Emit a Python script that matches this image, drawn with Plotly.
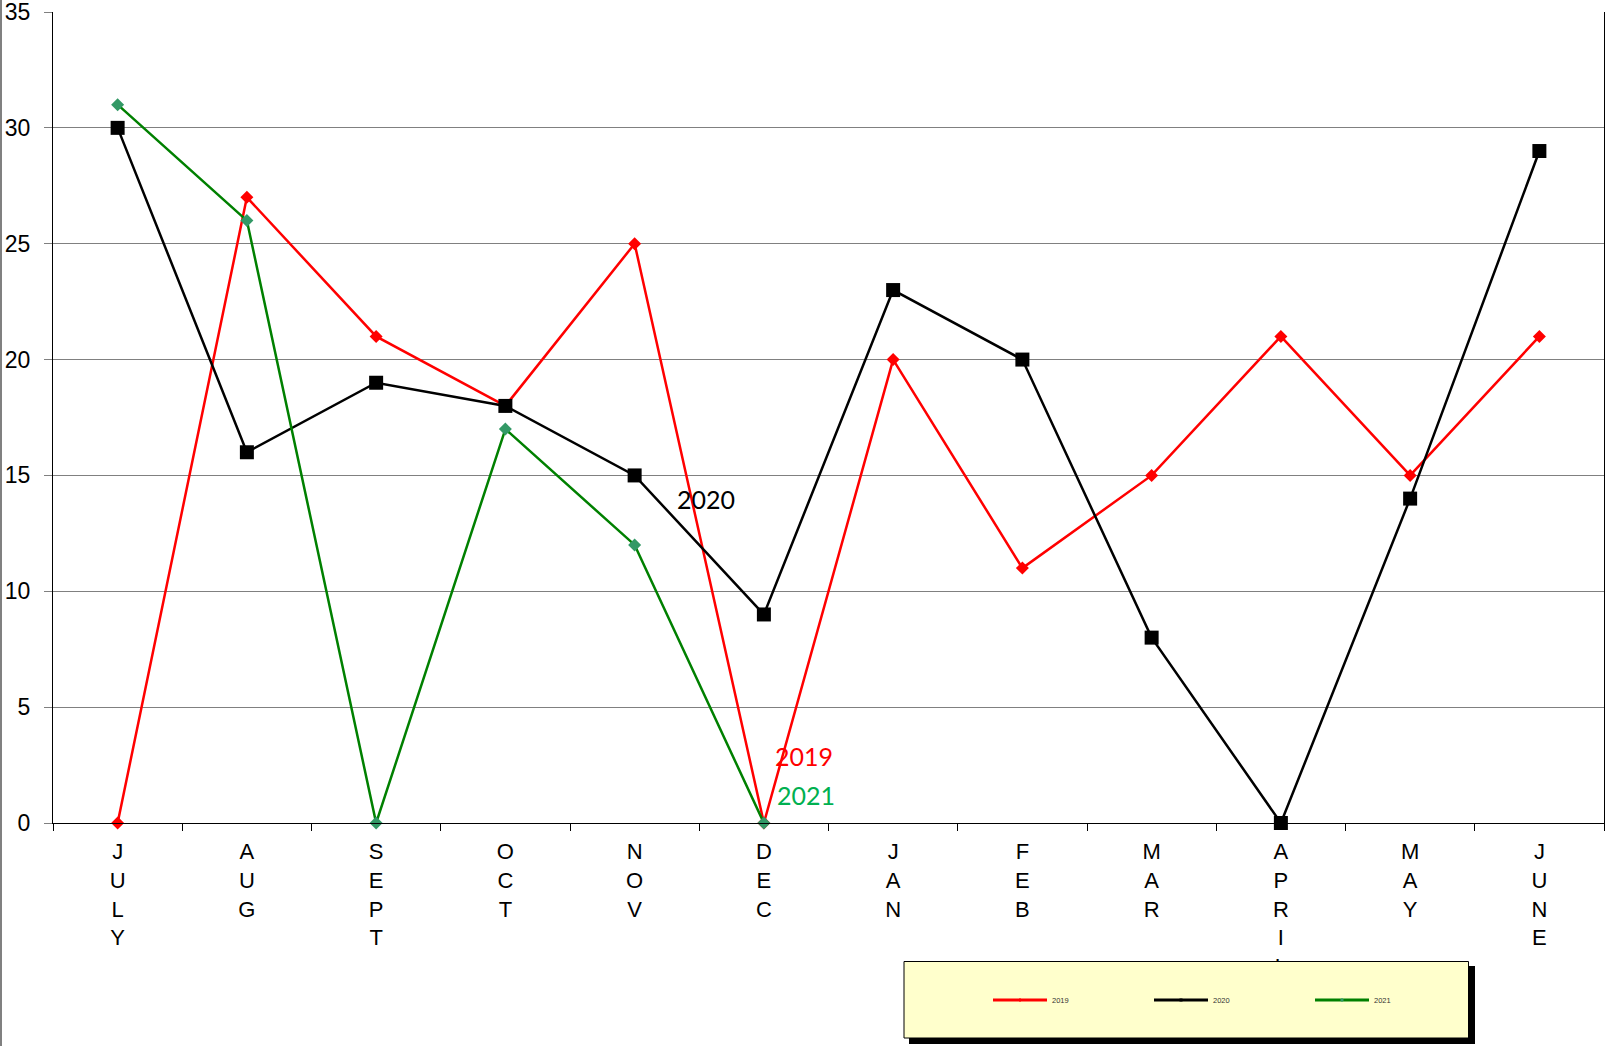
import plotly.graph_objects as go

months = ["JULY", "AUG", "SEPT", "OCT", "NOV", "DEC", "JAN", "FEB", "MAR", "APRIL", "MAY", "JUNE"]
tick_text = ["<br>".join(list(m)) for m in months]
s2019 = [0, 27, 21, 18, 25, 0, 20, 11, 15, 21, 15, 21]
s2020 = [30, 16, 19, 18, 15, 9, 23, 20, 8, 0, 14, 29]
s2021 = [31, 26, 0, 17, 12, 0]

W, H = 1606, 1046
L, R, T, B = 53, 2, 12, 223
PW = W - L - R
PH = H - T - B


def px(x):
    return (x - L) / PW


def py(y):
    return (H - B - y) / PH


fig = go.Figure()
fig.add_trace(go.Scatter(x=months, y=s2019, name="2019", mode="lines+markers", showlegend=False,
                         cliponaxis=False,
                         line=dict(color="#FF0000", width=2.5),
                         marker=dict(symbol="diamond", size=10, color="#FF0000")))
fig.add_trace(go.Scatter(x=months, y=s2020, name="2020", mode="lines+markers", showlegend=False,
                         cliponaxis=False,
                         line=dict(color="#000000", width=2.5),
                         marker=dict(symbol="square", size=14, color="#000000")))
fig.add_trace(go.Scatter(x=months[:len(s2021)], y=s2021, name="2021", mode="lines+markers",
                         showlegend=False, cliponaxis=False,
                         line=dict(color="#008000", width=2.5),
                         marker=dict(symbol="diamond", size=10, color="#339966")))

# legend-only entries with small markers (as in the original legend)
for nm, lc, mc, sym in [("2019", "#FF0000", "#FF0000", "diamond"),
                        ("2020", "#000000", "#000000", "square"),
                        ("2021", "#008000", "#339966", "diamond")]:
    fig.add_trace(go.Scatter(x=[None], y=[None], name=nm, mode="lines+markers",
                             line=dict(color=lc, width=3),
                             marker=dict(symbol=sym, size=3, color=mc)))

shapes = [
    dict(type="line", xref="paper", yref="paper", x0=px(1), x1=px(1), y0=py(0), y1=py(H),
         line=dict(color="#808080", width=2), layer="above"),
    dict(type="rect", xref="paper", yref="paper", x0=px(909), x1=px(1475), y0=py(966), y1=py(1044),
         fillcolor="#000000", line=dict(width=0), layer="above"),
    dict(type="rect", xref="paper", yref="paper", x0=px(904), x1=px(1468.5), y0=py(961.5), y1=py(1038),
         fillcolor="#FFFFCC", line=dict(color="#000000", width=1), layer="above"),
]

annotations = [
    dict(text="2020", x=px(706), y=py(499), xref="paper", yref="paper", showarrow=False,
         font=dict(family="Lato", size=25, color="#000000"), xanchor="center", yanchor="middle"),
    dict(text="2019", x=px(804), y=py(756), xref="paper", yref="paper", showarrow=False,
         font=dict(family="Lato", size=25, color="#FF0000"), xanchor="center", yanchor="middle"),
    dict(text="2021", x=px(806), y=py(795), xref="paper", yref="paper", showarrow=False,
         font=dict(family="Lato", size=25, color="#00B050"), xanchor="center", yanchor="middle"),
]

fig.update_layout(
    width=W, height=H,
    margin=dict(l=L, r=R, t=T, b=B, pad=0, autoexpand=False),
    paper_bgcolor="white", plot_bgcolor="white",
    font=dict(family="Liberation Sans, Arial", color="#000000"),
    showlegend=True,
    legend=dict(orientation="h", x=px(988), y=py(1000), xanchor="left", yanchor="middle",
                bgcolor="rgba(0,0,0,0)", borderwidth=0,
                font=dict(family="Liberation Sans, Arial", size=7.5, color="#333333"),
                itemwidth=54, entrywidth=92),
    shapes=shapes,
    annotations=annotations,
    hovermode=False,
)
fig.update_xaxes(type="category", categoryorder="array", categoryarray=months,
                 tickmode="array", tickvals=months, ticktext=tick_text,
                 range=[-0.5, 11.5], tickson="boundaries", ticks="outside", ticklen=7,
                 tickcolor="#000000", showline=True, linecolor="#000000", linewidth=1,
                 showgrid=False, zeroline=False, ticklabelstandoff=9,
                 ticklabeloverflow="allow", automargin=False,
                 tickfont=dict(family="Liberation Sans, Arial", size=22, color="#000000"))
fig.update_yaxes(range=[0, 35], dtick=5, tick0=0, ticks="outside", ticklen=8, tickcolor="#808080",
                 showgrid=True, gridcolor="#808080", gridwidth=1, zeroline=False,
                 showline=True, linecolor="#000000", linewidth=1, mirror=True,
                 ticklabelstandoff=9, ticklabeloverflow="allow", automargin=False,
                 tickfont=dict(family="Liberation Sans, Arial", size=23, color="#000000"))

fig.write_html("out.html")
